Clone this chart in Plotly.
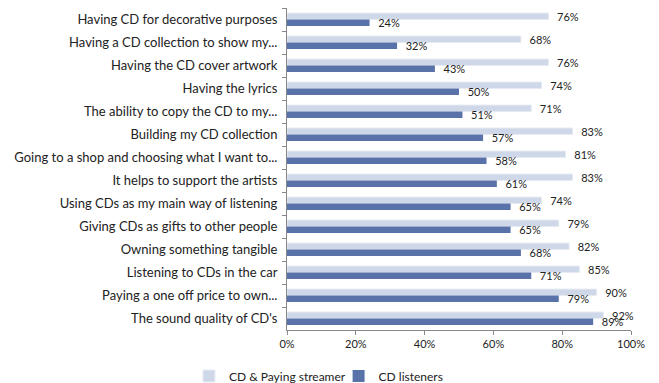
import plotly.graph_objects as go

categories = [
    "Having CD for decorative purposes",
    "Having a CD collection to show my...",
    "Having the CD cover artwork",
    "Having the lyrics",
    "The ability to copy the CD to my...",
    "Building my CD collection",
    "Going to a shop and choosing what I want to...",
    "It helps to support the artists",
    "Using CDs as my main way of listening",
    "Giving CDs as gifts to other people",
    "Owning something tangible",
    "Listening to CDs in the car",
    "Paying a one off price to own...",
    "The sound quality of CD's",
]
streamer_values = [76, 68, 76, 74, 71, 83, 81, 83, 74, 79, 82, 85, 90, 92]
listener_values = [24, 32, 43, 50, 51, 57, 58, 61, 65, 65, 68, 71, 79, 89]
x_ticks = [0, 20, 40, 60, 80, 100]

FONT = "Lato, 'Open Sans', sans-serif"
LIGHT = "#CFD8E8"
DARK = "#5A72AA"

fig = go.Figure()
fig.add_trace(go.Bar(
    y=categories, x=streamer_values, orientation="h",
    name="CD & Paying streamer", legend="legend",
    marker=dict(color=LIGHT, line=dict(color="#E6EBF3", width=1)),
    text=[f"  {v}%" for v in streamer_values],
    textposition="outside", cliponaxis=False, constraintext="none",
    textfont=dict(size=11, color="#222", family=FONT),
))
fig.add_trace(go.Bar(
    y=categories, x=listener_values, orientation="h",
    name="CD listeners", legend="legend2",
    marker=dict(color=DARK, line=dict(width=0)),
    text=[f"  {v}%" for v in listener_values],
    textposition="outside", cliponaxis=False, constraintext="none",
    textfont=dict(size=11, color="#222", family=FONT),
))

legend_style = dict(orientation="h", xanchor="left", yanchor="middle", y=-0.143,
                    font=dict(size=12, family=FONT, color="#222"),
                    itemwidth=30, bgcolor="rgba(0,0,0,0)")

fig.update_layout(
    width=659, height=383,
    margin=dict(l=287, r=28, t=8, b=53, autoexpand=False),
    barmode="group", bargap=0.44, bargroupgap=0.0,
    plot_bgcolor="white", paper_bgcolor="white",
    font=dict(family=FONT, size=12, color="#222"),
    showlegend=True,
    legend=dict(x=-0.285, **legend_style),
    legend2=dict(x=0.15, **legend_style),
    xaxis=dict(range=[0, 100], tickvals=x_ticks, ticktext=[f"{t}%" for t in x_ticks],
               showgrid=False, zeroline=False, showline=True, linecolor="#888",
               linewidth=1, ticks="outside", ticklen=4, tickcolor="#888",
               tickfont=dict(size=11, family=FONT)),
    yaxis=dict(autorange="reversed", showgrid=False, showline=True, linecolor="#888",
               linewidth=1, ticks="outside", ticklen=4, tickcolor="#888",
               tickson="boundaries", tickfont=dict(size=13, family=FONT),
               ticklabelstandoff=6),
)

fig.write_html("out.html")
